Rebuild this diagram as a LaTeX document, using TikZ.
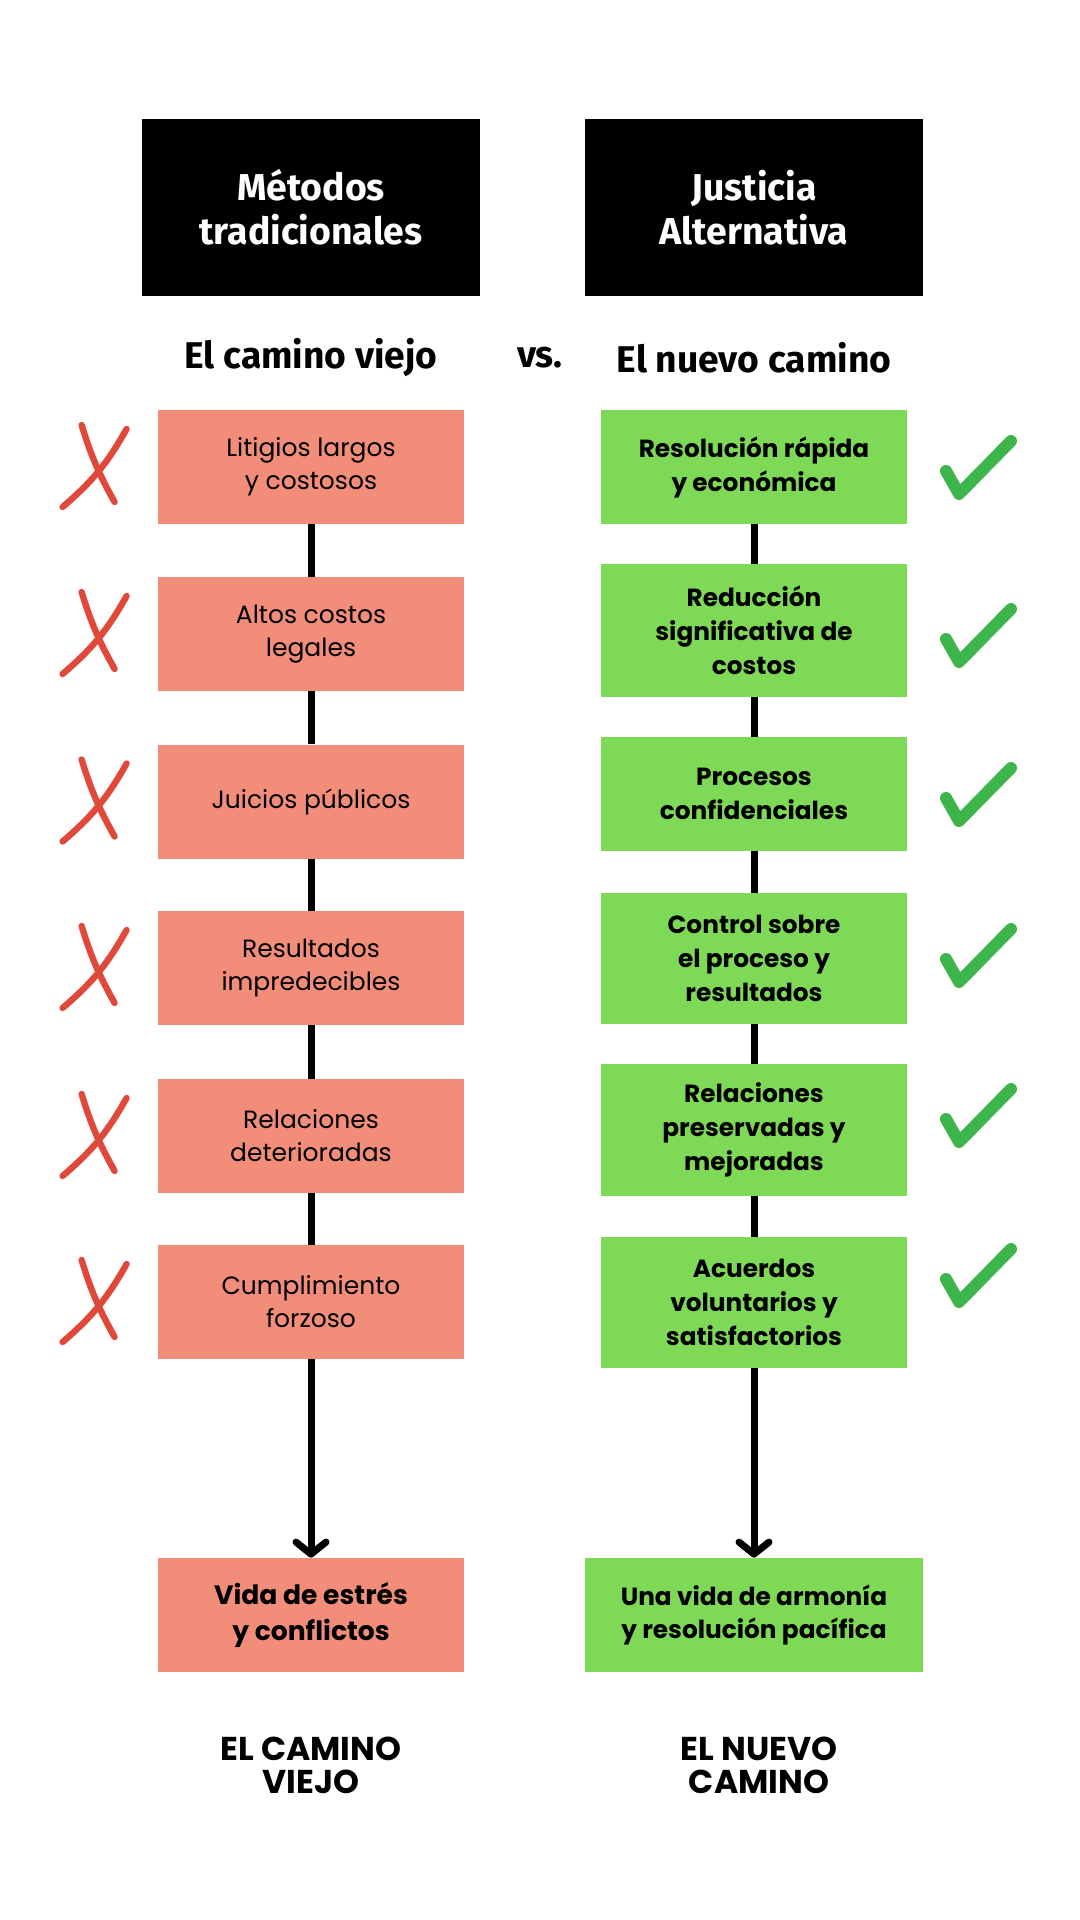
\documentclass[tikz,border=0pt]{standalone}
\usepackage{fontspec}
\setmainfont{Poppins}
\newfontfamily\headfont{Fira Sans}
\usetikzlibrary{arrows.meta,calc}
\definecolor{salmon}{HTML}{F28D7A}
\definecolor{lime}{HTML}{7ED957}
\definecolor{crossred}{HTML}{E0493A}
\definecolor{okgreen}{HTML}{3DB54A}
\begin{document}
\begin{tikzpicture}[x=0.5pt,y=-0.5pt,
  head/.style={fill=black,text=white,minimum width=169pt,minimum height=88.5pt,align=center,
    font=\headfont\bfseries\fontsize{18.7}{22}\selectfont},
  sub/.style={font=\headfont\bfseries\fontsize{18.6}{20}\selectfont},
  oldbox/.style={fill=salmon,minimum width=153pt,minimum height=57pt,align=center,inner sep=0pt,
    font=\fontsize{12.5}{16.5}\selectfont},
  newbox/.style={fill=lime,minimum width=153pt,align=center,inner sep=0pt,
    font=\bfseries\fontsize{12.4}{17}\selectfont},
  foot/.style={align=center,font=\bfseries\fontsize{16.5}{16.5}\selectfont},
  link/.style={line width=3.5pt},
  arr/.style={link,-{Straight Barb[length=6pt,width=15pt,line cap=round,line join=round]}},
  xmark/.style={crossred,line width=3.2pt,line cap=round},
  okmark/.style={okgreen,line width=6pt,line cap=round,line join=round}]
  \useasboundingbox (0,0) rectangle (1080,1920);
  % headings
  \node[head] (hold) at (311,207.5) {Métodos\\tradicionales};
  \node[head] (hnew) at (754,207.5) {Justicia\\Alternativa};
  \node[sub] (sold) at (311,358) {El camino viejo};
  \node[sub] (vs) at (540,358) {vs.};
  \node[sub] (snew) at (754,358) {El nuevo camino};
  % old way
  \foreach \i/\y/\t in {1/467/{Litigios largos\\y costosos},2/634/{Altos costos\\legales},
      3/801.5/{Juicios públicos},4/968/{Resultados\\impredecibles},
      5/1136/{Relaciones\\deterioradas},6/1302/{Cumplimiento\\forzoso}}
    \node[oldbox] (o\i) at (311,\y) {\t};
  % new way
  \foreach \i/\y/\h/\t in {1/467/114/{Resolución rápida\\y económica},
      2/630.5/133/{Reducción\\significativa de\\costos},3/794/114/{Procesos\\confidenciales},
      4/958.5/131/{Control sobre\\el proceso y\\resultados},5/1130/132/{Relaciones\\preservadas y\\mejoradas},
      6/1302.5/131/{Acuerdos\\voluntarios y\\satisfactorios}}
    \node[newbox,minimum height={\h*0.5pt}] (n\i) at (754,\y) {\t};
  \node[oldbox,font=\bfseries\fontsize{13.3}{17.8}\selectfont] (oend) at (311,1615) {Vida de estrés\\y conflictos};
  \node[newbox,minimum width=169pt,minimum height=57pt,font=\bfseries\fontsize{12.4}{16.5}\selectfont] (nend) at (754,1615) {Una vida de armonía\\y resolución pacífica};
  \foreach \a/\b in {1/2,2/3,3/4,4/5,5/6}{
    \draw[link] (o\a) -- (o\b); \draw[link] (n\a) -- (n\b);}
  \draw[arr] (o6) -- (oend);
  \draw[arr] (n6) -- (nend);
  % marks
  \foreach \i in {1,...,6}{
    \coordinate (c\i) at ($(o\i.west)+(-63,0)$);
    \draw[xmark] ([shift={(-13,-42)}]c\i) to[bend right=6] ([shift={(20,35)}]c\i);
    \draw[xmark] ([shift={(32,-38)}]c\i) to[bend left=10] ([shift={(-32,40)}]c\i);}
  \foreach \y in {467,635,794,955,1115,1275}
    \draw[okmark] (946,\y+4) -- (959,\y+27) -- (1011,\y-26);
  \node[foot] (fold) at (311,1765) {EL CAMINO\\VIEJO};
  \node[foot] (fnew) at (759,1765) {EL NUEVO\\CAMINO};
\end{tikzpicture}
\end{document}
